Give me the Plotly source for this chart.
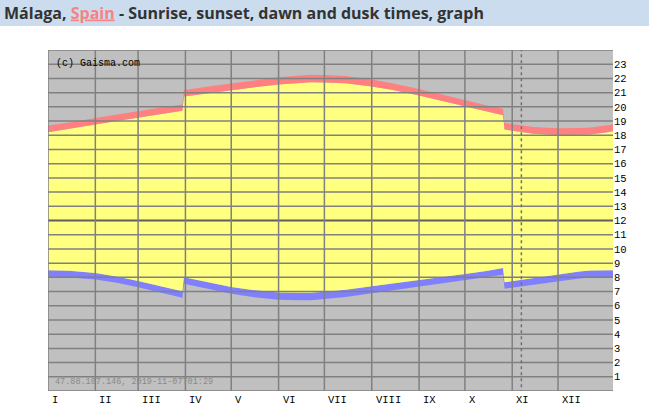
import plotly.graph_objects as go

# ---- data (hours of day, local time) ----
days = [0, 14, 31, 45, 59, 73, 88, 89, 104, 120, 134, 151, 165, 172, 181, 195,
        212, 226, 243, 257, 273, 287, 298, 299, 318, 334, 348, 355, 364, 370]
sunrise = [8.49, 8.46, 8.30, 8.06, 7.75, 7.41, 7.02, 8.00, 7.65, 7.32, 7.11, 6.94, 6.91, 6.91, 6.99, 7.13,
           7.37, 7.56, 7.80, 8.00, 8.24, 8.45, 8.65, 7.66, 7.96, 8.21, 8.41, 8.48, 8.50, 8.50]
sunset = [18.21, 18.43, 18.75, 19.01, 19.25, 19.48, 19.72, 20.73, 20.95, 21.17, 21.36, 21.57, 21.69, 21.73, 21.72, 21.66,
          21.43, 21.18, 20.79, 20.43, 20.01, 19.67, 19.41, 18.40, 18.11, 18.01, 18.02, 18.06, 18.18, 18.28]
dawn = [8.01, 7.99, 7.84, 7.61, 7.30, 6.96, 6.57, 7.55, 7.19, 6.84, 6.61, 6.43, 6.39, 6.39, 6.47, 6.62,
        6.88, 7.09, 7.34, 7.55, 7.79, 8.00, 8.19, 7.20, 7.49, 7.73, 7.92, 7.99, 8.02, 8.02]
dusk = [18.69, 18.90, 19.21, 19.46, 19.70, 19.93, 20.17, 21.18, 21.41, 21.65, 21.86, 22.08, 22.21, 22.25, 22.24, 22.17,
        21.92, 21.65, 21.25, 20.88, 20.46, 20.12, 19.87, 18.86, 18.58, 18.49, 18.51, 18.55, 18.66, 18.76]

month_labels = ["I", "II", "III", "IV", "V", "VI", "VII", "VIII", "IX", "X", "XI", "XII"]
month_start_days = [0, 31, 59, 90, 120, 151, 181, 212, 243, 273, 304, 334]
hour_ticks = list(range(1, 24))
today_day = 310
stamp_text = "47.88.107.146, 2019-11-07T01:29"

X_MAX = 370
MONO = "Liberation Mono, DejaVu Sans Mono, monospace"

fig = go.Figure()
fig.add_trace(go.Scatter(x=days, y=dawn, mode="lines", line=dict(width=0, color="#8080ff"),
                         hoverinfo="skip", showlegend=False))
fig.add_trace(go.Scatter(x=days, y=sunrise, mode="lines", line=dict(width=0, color="#8080ff"),
                         fill="tonexty", fillcolor="#8080ff", hoverinfo="skip", showlegend=False))
fig.add_trace(go.Scatter(x=days, y=sunset, mode="lines", line=dict(width=0, color="#ffff80"),
                         fill="tonexty", fillcolor="#ffff80", hoverinfo="skip", showlegend=False))
fig.add_trace(go.Scatter(x=days, y=dusk, mode="lines", line=dict(width=0, color="#ff8080"),
                         fill="tonexty", fillcolor="#ff8080", hoverinfo="skip", showlegend=False))

shapes = []
# header bar
shapes.append(dict(type="rect", xref="paper", yref="paper", x0=-0.09, x1=1.07,
                   y0=1.0704, y1=1.16, fillcolor="#cadced", line=dict(width=0), layer="below"))
# horizontal grid lines
for h in range(0, 25):
    if h == 12:
        shapes.append(dict(type="line", xref="x", yref="y", x0=0, x1=X_MAX, y0=h, y1=h,
                           line=dict(color="#5e5e5e", width=2), layer="above"))
    else:
        shapes.append(dict(type="line", xref="x", yref="y", x0=0, x1=X_MAX, y0=h, y1=h,
                           line=dict(color="#808080", width=1.5), layer="above"))
# vertical month lines
for d in month_start_days:
    shapes.append(dict(type="line", xref="x", yref="y", x0=d, x1=d, y0=0, y1=24,
                       line=dict(color="#808080", width=1.5), layer="above"))
# today marker
shapes.append(dict(type="line", xref="x", yref="y", x0=today_day, x1=today_day, y0=-0.15, y1=24,
                   line=dict(color="#707070", width=1.5, dash="dot"), layer="above"))

annotations = []
for d, lab in zip(month_start_days, month_labels):
    annotations.append(dict(x=d, xref="x", y=0, yref="paper", yanchor="top", xanchor="left",
                            xshift=2, yshift=-1, text=lab, showarrow=False,
                            font=dict(family=MONO, size=10.5, color="#000000")))
annotations.append(dict(x=0, xref="paper", y=1, yref="paper", xanchor="left", yanchor="top",
                        xshift=6, yshift=-6, text="(c) Gaisma.com", showarrow=False,
                        font=dict(family=MONO, size=10, color="#000000")))
annotations.append(dict(x=0, xref="paper", y=0, yref="paper", xanchor="left", yanchor="bottom",
                        xshift=5, yshift=2, text=stamp_text, showarrow=False,
                        font=dict(family=MONO, size=8.5, color="#8a8a8a")))

fig.update_layout(
    width=649, height=407,
    margin=dict(l=48, r=36, t=50, b=16, autoexpand=False),
    paper_bgcolor="#ffffff", plot_bgcolor="#c0c0c0",
    title=dict(
        text="Málaga, <span style='color:#f58383;text-decoration:underline'>Spain</span> - Sunrise, sunset, dawn and dusk times, graph",
        x=4 / 649, xref="container", xanchor="left",
        y=1 - 13 / 407, yref="container", yanchor="middle",
        font=dict(family="Open Sans, sans-serif", size=16, color="#333333", weight="bold"),
    ),
    xaxis=dict(range=[0, X_MAX], showgrid=False, zeroline=False, showticklabels=False,
               ticks="", showline=False, fixedrange=True),
    yaxis=dict(range=[0, 24], side="right", tickvals=hour_ticks, ticktext=[str(h) for h in hour_ticks],
               showgrid=False, zeroline=False, ticks="", showline=False,
               tickfont=dict(family=MONO, size=10.5, color="#000000"), fixedrange=True),
    shapes=shapes,
    annotations=annotations,
    showlegend=False,
)

fig.write_html("out.html",
               config={"displayModeBar": False},
               post_script="document.body.style.margin='0';document.body.style.overflow='hidden';")
